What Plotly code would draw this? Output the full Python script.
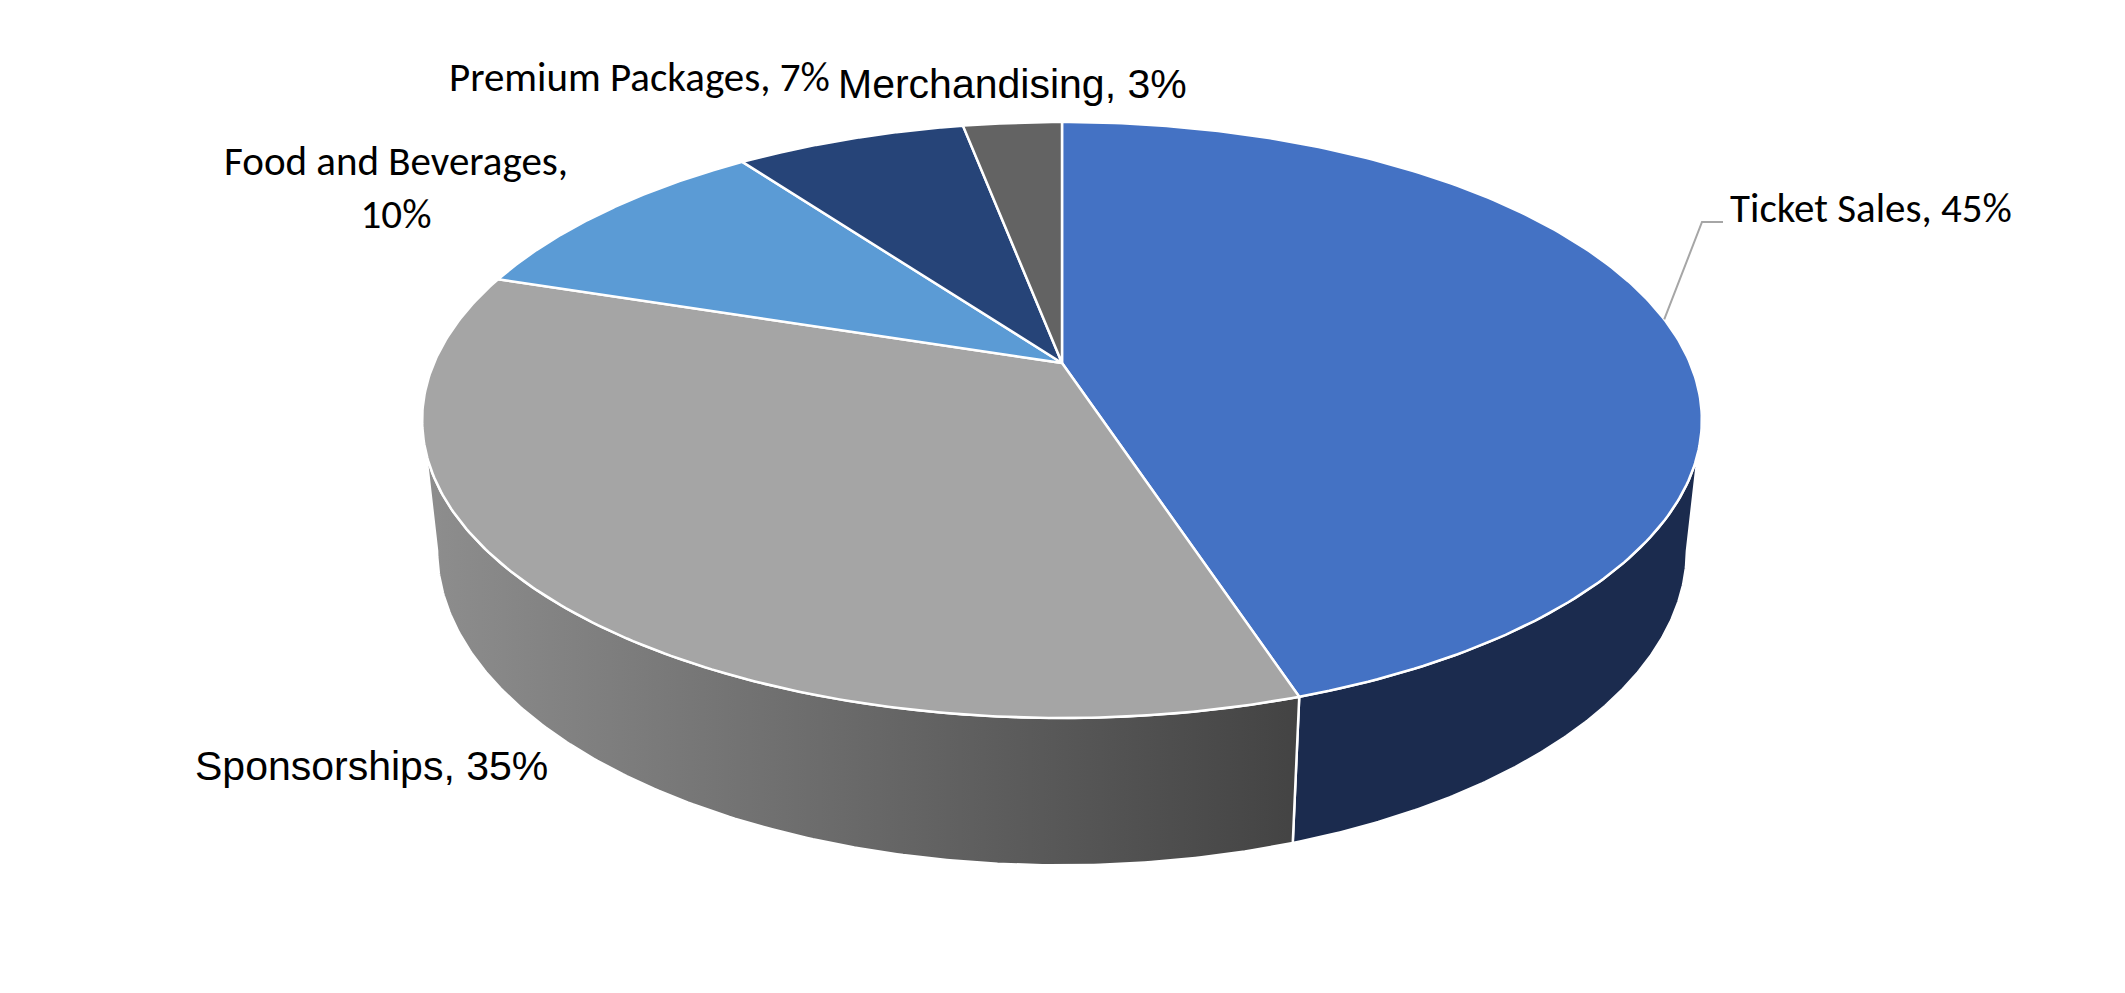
import numpy as np
import plotly.graph_objects as go

# revenue split (percent)
labels = ["Ticket Sales", "Sponsorships", "Food and Beverages", "Premium Packages", "Merchandising"]
values = [45, 35, 10, 7, 3]

top_colors = ["#4472C4", "#A5A5A5", "#5B9BD5", "#264478", "#636363"]
side_colors = ["#1B2B4E", None, "#1B2B4E", "#16284A", "#3A3A3A"]
side_gradient = [[0, "#8E8E8E"], [1, "#434343"]]

# 3D view settings (pixels) - tilt, camera distance, thickness
CX, CY = 1062, 363
FOCAL = 2919
DIST = 4.648
TILT = np.radians(27.2)
THICK = 0.234
s, c = np.sin(TILT), np.cos(TILT)


def project(theta, z):
    x, y = np.cos(theta), np.sin(theta)
    den = DIST + y * c - z * s
    return CX + FOCAL * x / den, CY - FOCAL * (y * s + z * c) / den


def arc(a0, a1, z, n=200):
    t = np.linspace(a0, a1, n)
    return project(t, z)


# slice angles: start at 12 o'clock, clockwise
fracs = np.array(values) / sum(values)
ends = np.pi / 2 - 2 * np.pi * np.cumsum(fracs)
starts = np.concatenate([[np.pi / 2], ends[:-1]])

# front silhouette of the cylinder
sil = np.arcsin(-c / DIST)
front_lo, front_hi = -np.pi - sil, sil

fig = go.Figure()

# side walls first
for i in range(len(values)):
    lo, hi = min(starts[i], ends[i]), max(starts[i], ends[i])
    lo, hi = max(lo, front_lo), min(hi, front_hi)
    if hi <= lo:
        continue
    tx, ty = arc(lo, hi, 0)
    bx, by = arc(hi, lo, -THICK)
    xs = np.concatenate([tx, bx, tx[:1]])
    ys = np.concatenate([ty, by, ty[:1]])
    kw = dict(fillcolor=side_colors[i])
    if side_colors[i] is None:
        kw = dict(fillgradient=dict(type="horizontal", colorscale=side_gradient))
    fig.add_trace(go.Scatter(
        x=xs, y=ys, mode="lines", fill="toself",
        line=dict(color="white", width=2.5),
        hoverinfo="skip", showlegend=False, **kw
    ))

# top faces
for i in range(len(values)):
    ax, ay = arc(starts[i], ends[i], 0)
    xs = np.concatenate([[CX], ax, [CX]])
    ys = np.concatenate([[CY], ay, [CY]])
    fig.add_trace(go.Scatter(
        x=xs, y=ys, mode="lines", fill="toself", fillcolor=top_colors[i],
        line=dict(color="white", width=2.5),
        name=labels[i], hoverinfo="name", showlegend=False
    ))

# leader line for Ticket Sales
mid = (starts[0] + ends[0]) / 2
lx, ly = project(mid, 0)
fig.add_trace(go.Scatter(
    x=[lx, 1702, 1723], y=[ly, 222, 222], mode="lines",
    line=dict(color="#A6A6A6", width=2), hoverinfo="skip", showlegend=False
))

calibri = "Calibri, Lato, sans-serif"
arial = "Arial, Liberation Sans, sans-serif"
label_pos = [
    (1728, 208, "left", calibri, 41),
    (193, 766, "left", arial, 41),
    (396, 187, "center", calibri, 41),
    (447, 77, "left", calibri, 41),
    (836, 84, "left", arial, 41),
]
for i, (x, y, anchor, fam, size) in enumerate(label_pos):
    name = labels[i]
    if name == "Food and Beverages":
        txt = f"{name},<br>{values[i]}%"
    else:
        txt = f"{name}, {values[i]}%"
    fig.add_annotation(
        x=x, y=y, xref="x", yref="y", text=txt, showarrow=False,
        xanchor=anchor, yanchor="middle", align="center",
        font=dict(family=fam, size=size, color="black")
    )

fig.update_layout(
    width=2125, height=993,
    margin=dict(l=0, r=0, t=0, b=0),
    paper_bgcolor="white", plot_bgcolor="white",
    xaxis=dict(range=[0, 2125], visible=False, fixedrange=True),
    yaxis=dict(range=[993, 0], visible=False, fixedrange=True),
)

fig.write_html("out.html", config={"displayModeBar": False},
               post_script="document.body.style.margin='0';document.body.style.overflow='hidden';")
